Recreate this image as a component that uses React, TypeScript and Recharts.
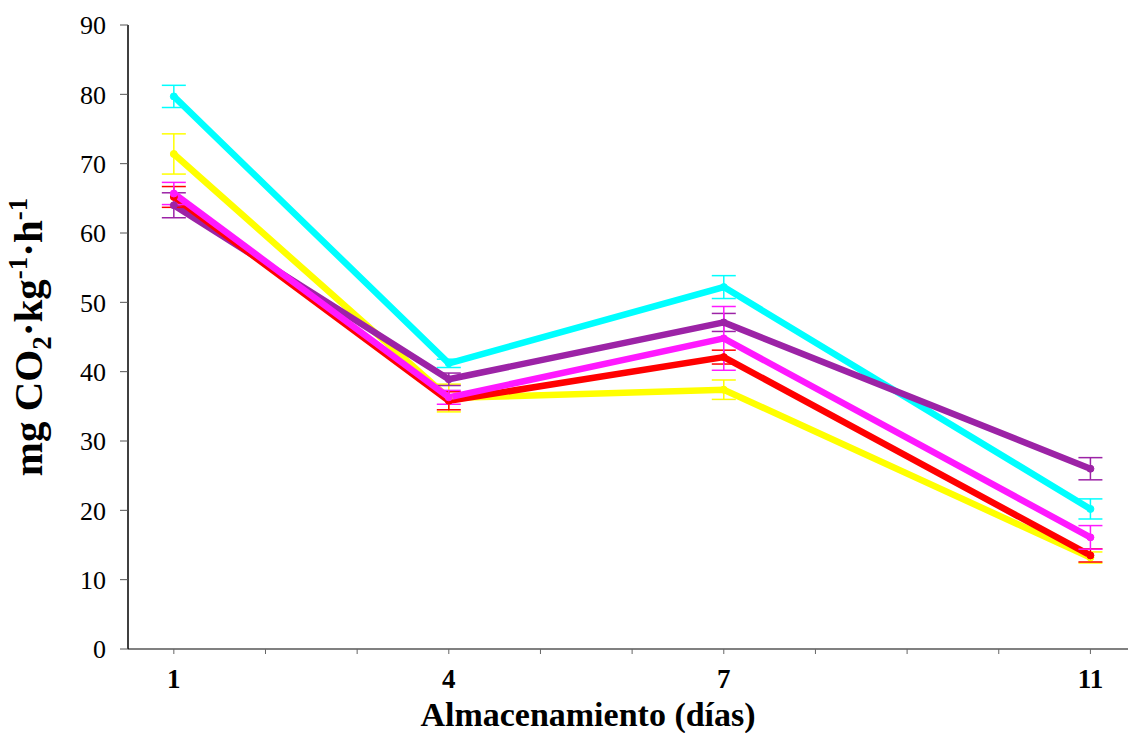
import { LineChart, Line, XAxis, YAxis, ErrorBar, Label } from "recharts";

const DAYS = [1, 4, 7, 11];
const X_TICKS = [1, 2, 3, 4, 5, 6, 7, 8, 9, 10, 11];
const Y_TICKS = [0, 10, 20, 30, 40, 50, 60, 70, 80, 90];

const cyan = [79.7, 41.2, 52.2, 20.2];
const cyanErr = [1.6, 0.6, 1.65, 1.45];
const yellow = [71.4, 36.2, 37.4, 13.2];
const yellowErr = [2.9, 2.0, 1.4, 0.8];
const red = [65.2, 35.8, 42.1, 13.5];
const redErr = [1.5, 1.3, 1.0, 0.95];
const magenta = [65.7, 36.3, 44.8, 16.1];
const magentaErr = [1.6, 1.0, 4.6, 1.7];
const purple = [64.0, 38.9, 47.1, 26.0];
const purpleErr = [1.8, 0.9, 1.3, 1.6];

const SERIES = [
  { key: "cyan", color: "#00ffff" },
  { key: "yellow", color: "#ffff00" },
  { key: "purple", color: "#9c23a6" },
  { key: "red", color: "#ff0000" },
  { key: "magenta", color: "#ff19ff" },
];

const data = DAYS.map((day, i) => ({
  day,
  cyan: cyan[i],
  cyanErr: cyanErr[i],
  yellow: yellow[i],
  yellowErr: yellowErr[i],
  red: red[i],
  redErr: redErr[i],
  magenta: magenta[i],
  magentaErr: magentaErr[i],
  purple: purple[i],
  purpleErr: purpleErr[i],
}));

const FONT = "'Liberation Serif', 'Times New Roman', serif";
const LABELED = [1, 4, 7, 11];

function YTitle({ viewBox }: any) {
  const cy = viewBox.y + viewBox.height / 2;
  return (
    <text
      transform={`translate(42, ${cy}) rotate(-90)`}
      textAnchor="middle"
      fontFamily={FONT}
      fontWeight="bold"
      fontSize={41}
      fill="#000"
    >
      mg CO<tspan fontSize={27} dy={9}>2</tspan>
      <tspan dy={-9}>·kg</tspan>
      <tspan fontSize={27} dy={-15}>-1</tspan>
      <tspan dy={15}>·h</tspan>
      <tspan fontSize={27} dy={-15}>-1</tspan>
    </text>
  );
}

function XTitle() {
  return (
    <text x={588} y={726} textAnchor="middle" fontFamily={FONT} fontWeight="bold" fontSize={34} fill="#000">
      Almacenamiento (días)
    </text>
  );
}

export default function App() {
  return (
    <div style={{ position: "absolute", left: 0, top: 0, width: 1128, height: 733, overflow: "hidden", background: "#fff" }}>
      <LineChart width={1128} height={733} data={data} margin={{ top: 25, right: 0, bottom: 0, left: 0 }}>
        <XAxis
          dataKey="day"
          type="number"
          domain={[0.5, 11.41]}
          ticks={X_TICKS}
          interval={0}
          allowDataOverflow
          height={84}
          axisLine={{ stroke: "#808080", strokeWidth: 2 }}
          tickLine={{ stroke: "#666" }}
          tickSize={5}
          tickMargin={15}
          tickFormatter={(v) => (LABELED.includes(v) ? String(v) : "")}
          tick={{ fontFamily: FONT, fontSize: 27, fontWeight: "bold", fill: "#000" }}
        >
          <Label content={<XTitle />} />
        </XAxis>
        <YAxis
          type="number"
          domain={[0, 90]}
          ticks={Y_TICKS}
          interval={0}
          width={128}
          axisLine={{ stroke: "#000", strokeWidth: 1.5 }}
          tickLine={{ stroke: "#555" }}
          tickSize={8}
          tickMargin={14}
          tick={{ fontFamily: FONT, fontSize: 26, fill: "#000" }}
        >
          <Label content={<YTitle />} />
        </YAxis>
        {SERIES.map((s) => (
          <Line
            key={s.key}
            type="linear"
            dataKey={s.key}
            stroke={s.color}
            strokeWidth={6.5}
            dot={{ r: 3.5, fill: s.color, stroke: s.color, strokeWidth: 1 }}
            activeDot={false}
            isAnimationActive={false}
          >
            <ErrorBar dataKey={`${s.key}Err`} width={12} stroke={s.color} strokeWidth={1.5} direction="y" />
          </Line>
        ))}
      </LineChart>
    </div>
  );
}
